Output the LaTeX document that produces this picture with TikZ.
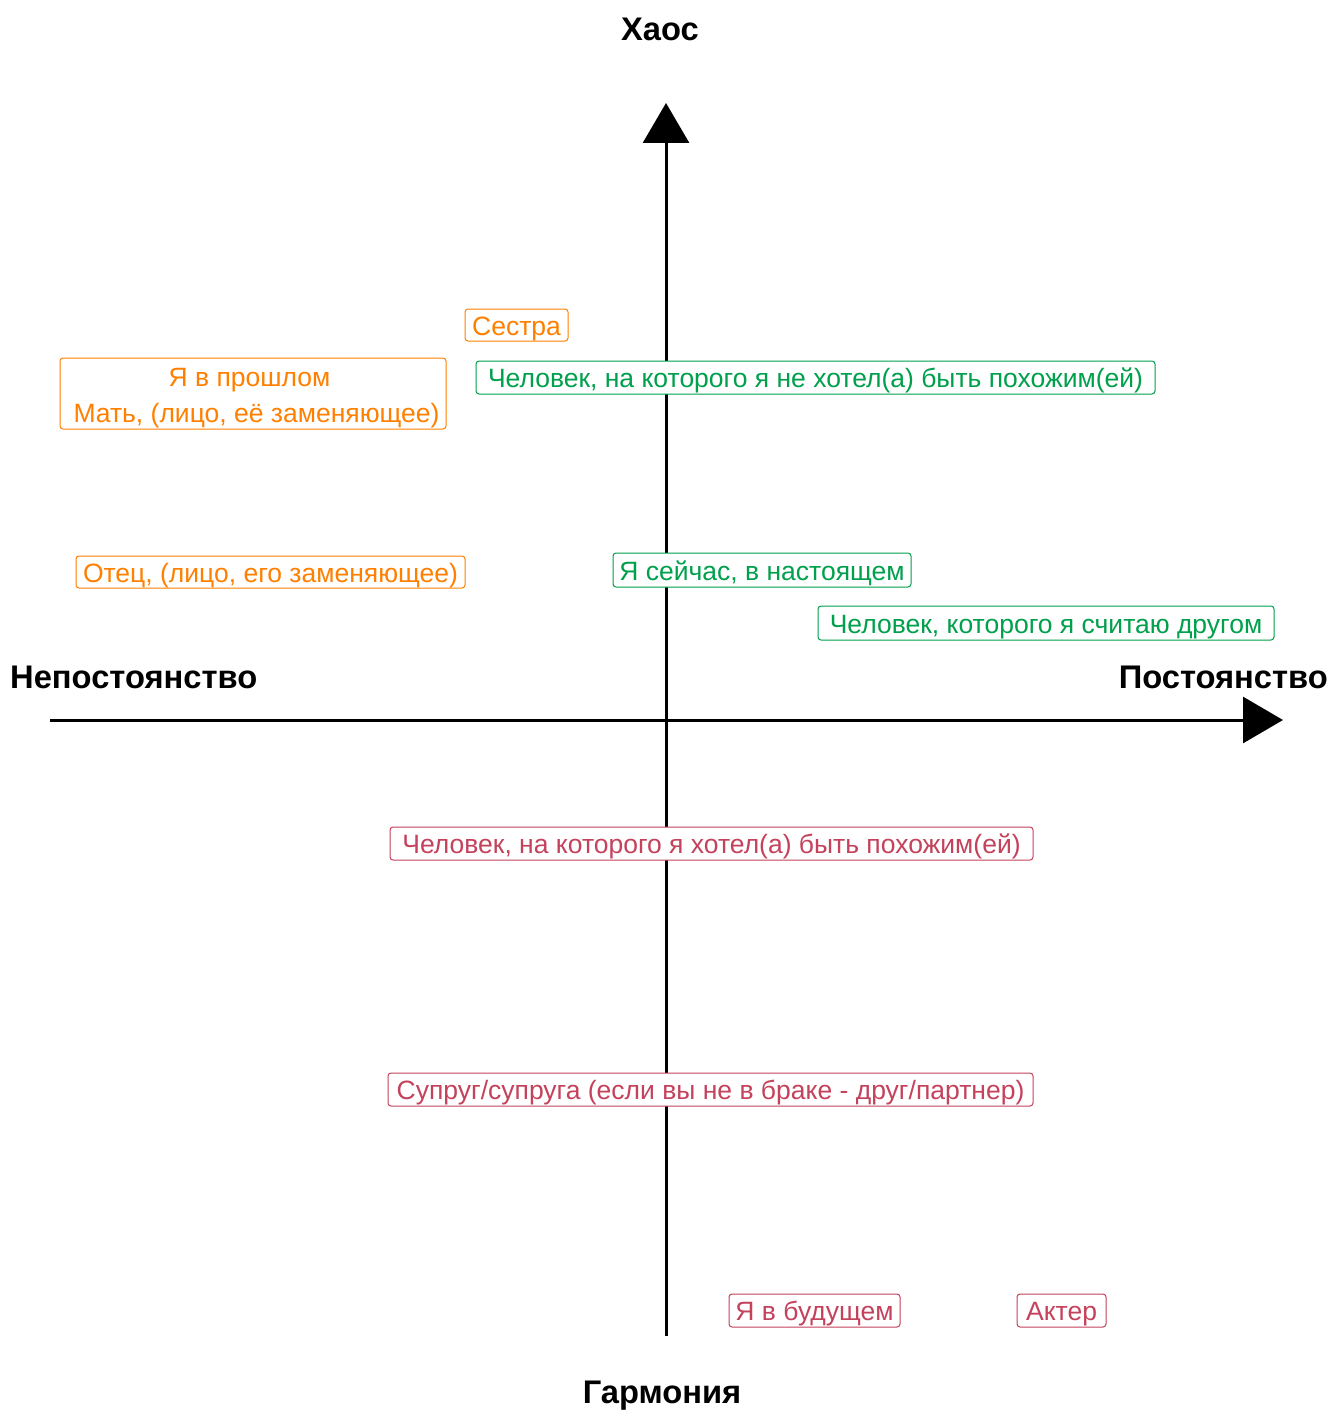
\documentclass[tikz,border=0pt]{standalone}
\usepackage{fontspec}
\setmainfont{Liberation Sans}
\usetikzlibrary{arrows.meta}
\definecolor{cor}{HTML}{FF8000}
\definecolor{cgr}{HTML}{00A04C}
\definecolor{cre}{HTML}{C4425C}
\tikzset{
  lbl/.style={draw=#1, text=#1, rounded corners=3pt, fill=white, line width=1pt, inner sep=0pt, font=\fontsize{26.5}{36}\selectfont},
  one/.style={text height=20pt, text depth=0pt},
  txt/.style={text=#1, inner sep=0pt, text height=20pt, text depth=0pt, font=\fontsize{26.5}{36}\selectfont},
  axlbl/.style={inner sep=0pt, font=\fontsize{32.7}{36}\selectfont\bfseries},
  axis/.style={line width=3pt, -{Triangle[length=40pt,width=46pt]}}
}
\begin{document}
\begin{tikzpicture}[x=1pt,y=-1pt]
\useasboundingbox (0,0) rectangle (1334,1412);
\coordinate (vb) at (666,1336);
\coordinate (vt) at (666,103);
\coordinate (hl) at (50,720);
\coordinate (hr) at (1283,720);
\draw[axis] (vb) -- (vt);
\draw[axis] (hl) -- (hr);
\node[axlbl] (chaos) at (660,29) {Хаос};
\node[axlbl] (harm) at (662,1396) {Гармония};
\node[axlbl, anchor=west] (nep) at (10,677) {Непостоянство};
\node[axlbl, anchor=east] (post) at (1328,677) {Постоянство};
% orange
\node[lbl=cor, one, minimum width=103pt, minimum height=32pt] (s1) at (516.5,325) {Сестра};
\node[lbl=cor, minimum width=386pt, minimum height=71pt] (s2) at (253,393.5) {};
\node[txt=cor] (s2a) at (249.5,376.5) {Я в прошлом};
\node[txt=cor] (s2b) at (256.5,412.5) {Мать, (лицо, её заменяющее)};
\node[lbl=cor, one, minimum width=389pt, minimum height=32pt] (s3) at (270.5,572) {Отец, (лицо, его заменяющее)};
% green
\node[lbl=cgr, one, minimum width=679pt, minimum height=33pt] (g1) at (815.5,377.5) {Человек, на которого я не хотел(а) быть похожим(ей)};
\node[lbl=cgr, one, minimum width=298pt, minimum height=34pt] (g2) at (762,570) {Я сейчас, в настоящем};
\node[lbl=cgr, one, minimum width=456pt, minimum height=34pt] (g3) at (1046,623) {Человек, которого я считаю другом};
% red
\node[lbl=cre, one, minimum width=643pt, minimum height=33pt] (r1) at (711.5,843.5) {Человек, на которого я хотел(а) быть похожим(ей)};
\node[lbl=cre, one, minimum width=645pt, minimum height=33pt] (r2) at (710.5,1089.5) {Супруг/супруга (если вы не в браке - друг/партнер)};
\node[lbl=cre, one, minimum width=171pt, minimum height=33pt] (r3) at (814.5,1310.5) {Я в будущем};
\node[lbl=cre, one, minimum width=89pt, minimum height=33pt] (r4) at (1061.5,1310.5) {Актер};
\end{tikzpicture}
\end{document}
